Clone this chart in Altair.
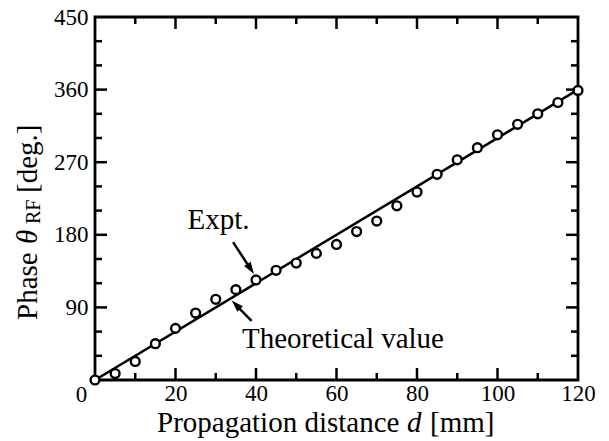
import altair as alt
import pandas as pd

# ---- data ----
d_expt = [0, 5, 10, 15, 20, 25, 30, 35, 40, 45, 50, 55, 60,
          65, 70, 75, 80, 85, 90, 95, 100, 105, 110, 115, 120]
phase_expt = [0, 8, 23, 45, 64, 83, 100, 112, 124, 136, 145, 157, 168,
              184, 197, 216, 233, 255, 273, 288, 304, 317, 330, 344, 359]
theory_d = [0, 120]
theory_phase = [0, 360]

x_labels = [20, 40, 60, 80, 100, 120]
y_labels = [90, 180, 270, 360, 450]
x_major_ticks = [20, 40, 60, 80, 100]
x_minor_ticks = [10, 30, 50, 70, 90, 110]
y_major_ticks = [90, 180, 270, 360]
y_minor_ticks = [30, 60, 120, 150, 210, 240, 300, 330, 390, 420]

# annotation anchors (data units)
expt_label = {"d": [30.7], "p": [187.0], "t": ["Expt."]}
theo_label = {"d": [36.5], "p": [39.5], "t": ["Theoretical value"]}
expt_arrow_d = [34.3, 38.6]
expt_arrow_p = [171.0, 138.0]
expt_tip = {"d": [39.5], "p": [131.4]}
theo_arrow_d = [38.9, 35.1]
theo_arrow_p = [73.4, 92.5]
theo_tip = {"d": [33.96], "p": [98.6]}

W, H = 483, 363
FONT = "Liberation Serif"
INK = "black"

xs = alt.Scale(domain=[0, 120], nice=False, zero=False)
ys = alt.Scale(domain=[0, 450], nice=False, zero=False)

x_axis = alt.Axis(values=x_labels, ticks=False, domain=False, grid=False, title=None,
                  labelFont=FONT, labelFontSize=23, labelColor=INK, labelPadding=2,
                  labelFlush=False, labelOverlap=False, labelAngle=0)
y_axis = alt.Axis(values=y_labels, ticks=False, domain=False, grid=False, title=None,
                  labelFont=FONT, labelFontSize=23, labelColor=INK, labelPadding=7,
                  labelFlush=False, labelOverlap=False)


def X(field="d"):
    return alt.X(f"{field}:Q", scale=xs, axis=x_axis, title=None)


def Y(field="p"):
    return alt.Y(f"{field}:Q", scale=ys, axis=y_axis, title=None)


theory_df = pd.DataFrame({"d": theory_d, "p": theory_phase})
expt_df = pd.DataFrame({"d": d_expt, "p": phase_expt})

theory = alt.Chart(theory_df).mark_line(color=INK, strokeWidth=2.5).encode(x=X(), y=Y())

points = alt.Chart(expt_df).mark_point(
    shape="circle", filled=True, fill="white", stroke=INK, strokeWidth=2.4,
    size=78, opacity=1
).encode(x=X(), y=Y())


# ticks pointing inward on all four sides
def vticks(vals, length, side):
    df = pd.DataFrame({"d": vals})
    if side == "bottom":
        y0, y1 = H, H - length
    else:
        y0, y1 = 0, length
    return alt.Chart(df).mark_rule(color=INK, strokeWidth=2.5).encode(
        x=X(), y=alt.value(y0), y2=alt.value(y1))


def hticks(vals, length, side):
    df = pd.DataFrame({"p": vals})
    if side == "left":
        x0, x1 = 0, length
    else:
        x0, x1 = W, W - length
    return alt.Chart(df).mark_rule(color=INK, strokeWidth=2.5).encode(
        y=Y(), x=alt.value(x0), x2=alt.value(x1))


ticks = [
    vticks(x_major_ticks, 12, "bottom"), vticks(x_minor_ticks, 7, "bottom"),
    vticks(x_major_ticks, 12, "top"), vticks(x_minor_ticks, 7, "top"),
    hticks(y_major_ticks, 12, "left"), hticks(y_minor_ticks, 7, "left"),
    hticks(y_major_ticks, 12, "right"), hticks(y_minor_ticks, 7, "right"),
]

# corner zero label shared by both axes
zero = alt.Chart(pd.DataFrame({"t": ["0"]})).mark_text(
    font=FONT, fontSize=23, color=INK, align="center", baseline="alphabetic"
).encode(x=alt.value(-13.5), y=alt.value(385), text="t:N")

# annotations
expt_text = alt.Chart(pd.DataFrame(expt_label)).mark_text(
    font=FONT, fontSize=29, color=INK, align="center", baseline="alphabetic"
).encode(x=X(), y=Y(), text="t:N")
theo_text = alt.Chart(pd.DataFrame(theo_label)).mark_text(
    font=FONT, fontSize=29, color=INK, align="left", baseline="alphabetic"
).encode(x=X(), y=Y(), text="t:N")

expt_shaft = alt.Chart(pd.DataFrame({"d": expt_arrow_d, "p": expt_arrow_p})).mark_line(
    color=INK, strokeWidth=2.5).encode(x=X(), y=Y())
theo_shaft = alt.Chart(pd.DataFrame({"d": theo_arrow_d, "p": theo_arrow_p})).mark_line(
    color=INK, strokeWidth=2.5).encode(x=X(), y=Y())
HEAD = "M0,0L0.65,2L-0.65,2Z"
expt_head = alt.Chart(pd.DataFrame(expt_tip)).mark_point(
    shape=HEAD, filled=True, color=INK, size=144, opacity=1, angle=146.7, strokeWidth=0
).encode(x=X(), y=Y())
theo_head = alt.Chart(pd.DataFrame(theo_tip)).mark_point(
    shape=HEAD, filled=True, color=INK, size=144, opacity=1, angle=315, strokeWidth=0
).encode(x=X(), y=Y())


# axis titles built from pieces (italic symbols, subscript)
def txt(s, x, y, size=29, style="normal", angle=0):
    return alt.Chart(pd.DataFrame({"t": [s]})).mark_text(
        font=FONT, fontSize=size, fontStyle=style, color=INK, align="left",
        baseline="alphabetic", angle=angle
    ).encode(x=alt.value(x), y=alt.value(y), text="t:N")


x_title = [
    txt("Propagation distance", 62, 415),
    txt("d", 312, 415, style="italic"),
    txt("[mm]", 335, 415),
]
y_title = [
    txt("Phase", -58, 303, angle=270),
    txt("θ", -58, 227, style="italic", angle=270),
    txt("RF", -55, 207, size=20, angle=270),
    txt("[deg.]", -58, 176, angle=270),
]

chart = alt.layer(
    theory, *ticks, expt_shaft, theo_shaft, expt_head, theo_head, points,
    zero, expt_text, theo_text, *x_title, *y_title
).properties(
    width=W, height=H,
    autosize=alt.AutoSizeParams(type="none"),
    padding={"left": 95, "top": 17, "right": 31, "bottom": 61},
    background="white",
).configure_view(stroke=INK, strokeWidth=2.8)

chart.save("out.html", embed_options={"renderer": "svg", "actions": False})
